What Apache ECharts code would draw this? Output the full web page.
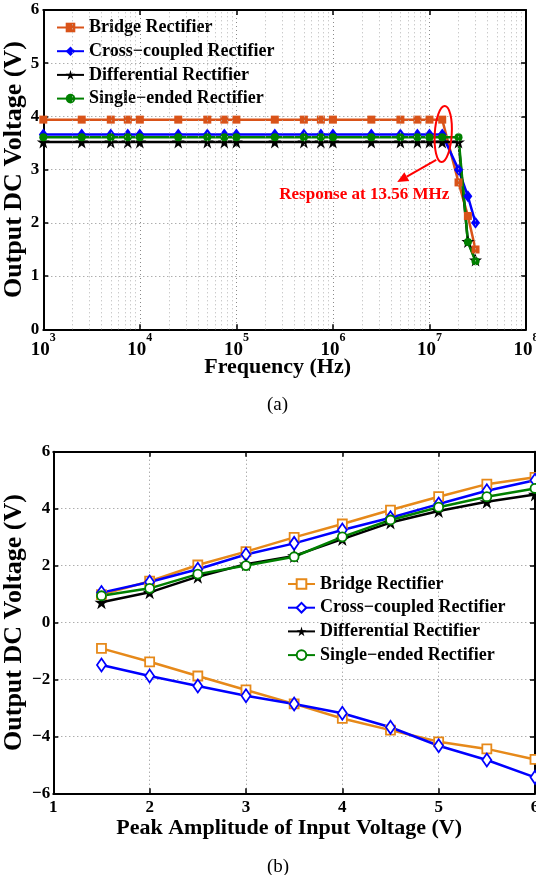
<!DOCTYPE html>
<html>
<head>
<meta charset="utf-8">
<script src="https://cdn.jsdelivr.net/npm/echarts@6/dist/echarts.min.js"></script>
<style>
html, body { margin: 0; padding: 0; background: #fff; }
#chart { width: 536px; height: 875px; }
</style>
</head>
<body>
<div id="chart"></div>
<script>
// ---- data: (a) output voltage vs frequency ----
const seriesNames = ['Bridge Rectifier', 'Cross\u2212coupled Rectifier', 'Differential Rectifier', 'Single\u2212ended Rectifier'];
const freqFlat = [1e3, 2.5e3, 5e3, 7.5e3, 1e4, 2.5e4, 5e4, 7.5e4, 1e5, 2.5e5, 5e5, 7.5e5, 1e6, 2.5e6, 5e6, 7.5e6, 1e7, 1.356e7];
const freqDrop = [2e7, 2.5e7, 3e7];
const bridgeFlat = 3.94;
const crossFlat = 3.66;
const diffFlat = 3.52;
const singleFlat = 3.61;
const bridgeDrop = [2.76, 2.13, 1.50];
const crossDrop = [3.00, 2.50, 2.00];
const diffDrop = [3.52, 1.65, 1.30];
const singleDrop = [3.61, 1.64, 1.28];

// ---- data: (b) output voltage vs input amplitude ----
const amplitude = [1.5, 2, 2.5, 3, 3.5, 4, 4.5, 5, 5.5, 6];
const bridgePos = [0.98, 1.45, 2.02, 2.49, 2.99, 3.46, 3.95, 4.42, 4.86, 5.10];
const crossPos = [1.05, 1.42, 1.87, 2.39, 2.78, 3.25, 3.68, 4.16, 4.63, 5.00];
const diffPos = [0.71, 1.06, 1.61, 2.05, 2.34, 2.93, 3.51, 3.92, 4.24, 4.50];
const singlePos = [0.94, 1.20, 1.70, 2.00, 2.31, 3.01, 3.60, 4.05, 4.42, 4.71];
const bridgeNeg = [-0.91, -1.38, -1.88, -2.37, -2.86, -3.37, -3.78, -4.19, -4.44, -4.81];
const crossNeg = [-1.49, -1.88, -2.23, -2.57, -2.86, -3.19, -3.68, -4.33, -4.83, -5.44];

const FONT = 'Liberation Serif';
const STAR = 'path://M50,0 L61,35 L98,35 L68,57 L79,91 L50,70 L21,91 L32,57 L2,35 L39,35 Z';
const ORANGE_A = '#D95319';
const ORANGE_B = '#E6891A';
const BLUE = '#0000FF';
const GREEN = '#008000';

const chart = echarts.init(document.getElementById('chart'));

function freqSeries(flat, drop) {
    const flatPts = freqFlat.map(f => [f, flat]);
    const dropPts = freqDrop.map((f, i) => [f, drop[i]]);
    return flatPts.concat(dropPts);
}

function lineSeries(name, data, axis, color, symbol, size, hollow) {
    return {
        name: name,
        type: 'line',
        xAxisIndex: axis,
        yAxisIndex: axis,
        data: data,
        symbol: symbol,
        symbolSize: size,
        showSymbol: true,
        animation: false,
        lineStyle: { color: color, width: 2.5 },
        itemStyle: {
            color: hollow ? '#fff' : color,
            borderColor: color,
            borderWidth: hollow ? 1.8 : 0
        }
    };
}

function zip(xs, ys) {
    return xs.map((x, i) => [x, ys[i]]);
}

// minor log grid positions 2..9 x 10^k
const minorLines = [];
for (let k = 3; k < 8; k++) {
    for (let m = 2; m < 10; m++) minorLines.push({ xAxis: m * Math.pow(10, k) });
}

const dotted = { type: [1, 3], color: '#8a8a8a', width: 1 };
const boxLine = { show: true, onZero: false, lineStyle: { color: '#000', width: 2 } };
const tickIn = { show: true, inside: true, length: 5, lineStyle: { color: '#000', width: 1.5 } };
const tickLabel = { fontFamily: FONT, fontWeight: 'bold', fontSize: 17, color: '#000' };
const legendText = { fontFamily: FONT, fontWeight: 'bold', fontSize: 18, color: '#000' };

const option = {
    backgroundColor: '#fff',
    animation: false,
    title: [
        { text: '(a)', left: 262, top: 391, textStyle: { fontFamily: FONT, fontWeight: 'normal', fontSize: 19, color: '#000' } },
        { text: '(b)', left: 262, top: 853, textStyle: { fontFamily: FONT, fontWeight: 'normal', fontSize: 19, color: '#000' } }
    ],
    grid: [
        { left: 43.3, top: 10, width: 482.7, height: 319.3, outerBoundsMode: 'none', containLabel: false },
        { left: 53.3, top: 451.7, width: 481.7, height: 341.6, outerBoundsMode: 'none', containLabel: false }
    ],
    legend: [
        {
            data: seriesNames,
            orient: 'vertical',
            left: 56,
            top: 18.5,
            padding: 0,
            itemWidth: 27,
            itemHeight: 12,
            itemGap: 5.7,
            textStyle: legendText
        },
        {
            data: seriesNames.map(n => 'b:' + n),
            formatter: n => n.replace('b:', ''),
            orient: 'vertical',
            left: 287,
            top: 575,
            padding: 0,
            itemWidth: 27,
            itemHeight: 12,
            itemGap: 5.7,
            textStyle: legendText
        }
    ],
    xAxis: [
        {
            gridIndex: 0, type: 'log', logBase: 10, min: 1e3, max: 1e8, position: 'bottom',
            axisLine: boxLine, axisTick: tickIn,
            splitLine: { show: true, lineStyle: dotted },
            axisLabel: {
                margin: 3,
                formatter: v => '{b|10}{s|' + Math.round(Math.log10(v)) + '}',
                rich: {
                    b: { fontFamily: FONT, fontWeight: 'bold', fontSize: 19, color: '#000', verticalAlign: 'bottom' },
                    s: { fontFamily: FONT, fontWeight: 'bold', fontSize: 12, color: '#000', verticalAlign: 'bottom', padding: [0, 0, 15, 0] }
                }
            },
            name: 'Frequency (Hz)', nameLocation: 'middle', nameGap: 27, nameMoveOverlap: false,
            nameTextStyle: { fontFamily: FONT, fontWeight: 'bold', fontSize: 22, color: '#000', padding: [0, 14, 0, 0] }
        },
        {
            gridIndex: 0, type: 'log', logBase: 10, min: 1e3, max: 1e8, position: 'top',
            axisLine: boxLine, axisTick: tickIn, axisLabel: { show: false }, splitLine: { show: false }
        },
        {
            gridIndex: 1, type: 'value', min: 1, max: 6, interval: 1, position: 'bottom',
            axisLine: boxLine, axisTick: tickIn,
            splitLine: { show: true, lineStyle: dotted },
            axisLabel: Object.assign({ margin: 6 }, tickLabel),
            name: 'Peak Amplitude of Input Voltage (V)', nameLocation: 'middle', nameGap: 24, nameMoveOverlap: false,
            nameTextStyle: { fontFamily: FONT, fontWeight: 'bold', fontSize: 22, color: '#000', padding: [0, 10, 0, 0] }
        },
        {
            gridIndex: 1, type: 'value', min: 1, max: 6, interval: 1, position: 'top',
            axisLine: boxLine, axisTick: tickIn, axisLabel: { show: false }, splitLine: { show: false }
        }
    ],
    yAxis: [
        {
            gridIndex: 0, type: 'value', min: 0, max: 6, interval: 1, position: 'left',
            axisLine: boxLine, axisTick: tickIn,
            splitLine: { show: true, lineStyle: dotted },
            axisLabel: Object.assign({ margin: 4 }, tickLabel),
            name: 'Output DC Voltage (V)', nameLocation: 'middle', nameGap: 16, nameMoveOverlap: false,
            nameTextStyle: { fontFamily: FONT, fontWeight: 'bold', fontSize: 26, color: '#000' }
        },
        {
            gridIndex: 0, type: 'value', min: 0, max: 6, interval: 1, position: 'right',
            axisLine: boxLine, axisTick: tickIn, axisLabel: { show: false }, splitLine: { show: false }
        },
        {
            gridIndex: 1, type: 'value', min: -6, max: 6, interval: 2, position: 'left',
            axisLine: boxLine, axisTick: tickIn,
            splitLine: { show: true, lineStyle: dotted },
            axisLabel: Object.assign({ margin: 3, formatter: v => String(v).replace('-', '\u2212') }, tickLabel),
            name: 'Output DC Voltage (V)', nameLocation: 'middle', nameGap: 26, nameMoveOverlap: false,
            nameTextStyle: { fontFamily: FONT, fontWeight: 'bold', fontSize: 26, color: '#000' }
        },
        {
            gridIndex: 1, type: 'value', min: -6, max: 6, interval: 2, position: 'right',
            axisLine: boxLine, axisTick: tickIn, axisLabel: { show: false }, splitLine: { show: false }
        }
    ],
    series: [
        {
            name: 'minorGrid', type: 'line', xAxisIndex: 0, yAxisIndex: 0, data: [], silent: true, z: 0,
            markLine: {
                silent: true, symbol: ['none', 'none'], animation: false,
                label: { show: false },
                lineStyle: { type: [1, 3], color: '#b5b5b5', width: 1 },
                emphasis: { disabled: true },
                data: minorLines
            }
        },
        lineSeries(seriesNames[0], freqSeries(bridgeFlat, bridgeDrop), 0, ORANGE_A, 'rect', 8, false),
        lineSeries(seriesNames[1], freqSeries(crossFlat, crossDrop), 0, BLUE, 'diamond', [9, 12], false),
        lineSeries(seriesNames[2], freqSeries(diffFlat, diffDrop), 0, '#000', STAR, 13, false),
        lineSeries(seriesNames[3], freqSeries(singleFlat, singleDrop), 0, GREEN, 'circle', 8, false),

        lineSeries('b:' + seriesNames[0], zip(amplitude, bridgePos), 2, ORANGE_B, 'rect', 9, true),
        lineSeries('b:' + seriesNames[1], zip(amplitude, crossPos), 2, BLUE, 'diamond', [9, 13], true),
        lineSeries('b:' + seriesNames[2], zip(amplitude, diffPos), 2, '#000', STAR, 14, false),
        lineSeries('b:' + seriesNames[3], zip(amplitude, singlePos), 2, GREEN, 'circle', 9, true),
        lineSeries('b:' + seriesNames[0], zip(amplitude, bridgeNeg), 2, ORANGE_B, 'rect', 9, true),
        lineSeries('b:' + seriesNames[1], zip(amplitude, crossNeg), 2, BLUE, 'diamond', [9, 13], true)
    ]
};

chart.setOption(option);

// ---- red annotation around the 13.56 MHz point ----
const c = chart.convertToPixel({ xAxisIndex: 0, yAxisIndex: 0 }, [1.356e7, 3.67]);
const tail = [c[0] - 6, c[1] + 26];
const head = [c[0] - 45, c[1] + 48];
const dx = head[0] - tail[0], dy = head[1] - tail[1];
const len = Math.sqrt(dx * dx + dy * dy);
const ux = dx / len, uy = dy / len;
const hl = 11, hw = 5;
const base = [head[0] - ux * hl, head[1] - uy * hl];

chart.setOption({
    graphic: [
        {
            type: 'ellipse', x: c[0] + 1, y: c[1], rotation: -0.06, silent: true, z: 100,
            shape: { cx: 0, cy: 0, rx: 8.5, ry: 28 },
            style: { fill: 'none', stroke: '#FF0000', lineWidth: 2 }
        },
        {
            type: 'line', silent: true, z: 100,
            shape: { x1: tail[0], y1: tail[1], x2: base[0], y2: base[1] },
            style: { stroke: '#FF0000', lineWidth: 2 }
        },
        {
            type: 'polygon', silent: true, z: 100,
            shape: {
                points: [
                    head,
                    [base[0] - uy * hw, base[1] + ux * hw],
                    [base[0] + uy * hw, base[1] - ux * hw]
                ]
            },
            style: { fill: '#FF0000' }
        },
        {
            type: 'text', x: c[0] + 7, y: c[1] + 61, silent: true, z: 100,
            style: {
                text: 'Response at 13.56 MHz',
                fill: '#FF0000',
                font: 'bold 17px "Liberation Serif"',
                align: 'right',
                verticalAlign: 'middle'
            }
        }
    ]
});
</script>
</body>
</html>
